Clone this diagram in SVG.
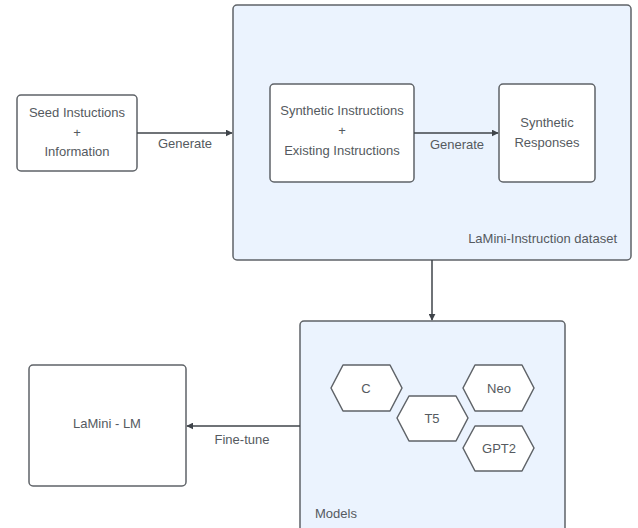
<svg xmlns="http://www.w3.org/2000/svg" width="638" height="528" viewBox="0 0 638 528">
  <style>
    .box { fill: #ffffff; stroke: #5f6368; stroke-width: 1.5; }
    .group { fill: #ebf3fe; stroke: #5f6368; stroke-width: 1.5; }
    .hex { fill: #ffffff; stroke: #5f6368; stroke-width: 1.5; stroke-linejoin: round; }
    .edge { fill: none; stroke: #3f444a; stroke-width: 1.5; }
    text { font-family: "Liberation Sans", Arial, sans-serif; font-size: 13px; fill: #555a60; }
    .c { text-anchor: middle; }
  </style>
  <defs>
    <marker id="arrow" viewBox="0 0 10 10" refX="9" refY="5" markerWidth="7" markerHeight="7" orient="auto" markerUnits="userSpaceOnUse">
      <path d="M0,0 L10,5 L0,10 Z" fill="#3f444a"/>
    </marker>
  </defs>

  <!-- containers -->
  <g id="dataset">
    <rect class="group" x="233" y="5" width="398" height="255" rx="4"/>
    <text x="617" y="243" text-anchor="end">LaMini-Instruction dataset</text>
  </g>
  <g id="models">
    <rect class="group" x="300" y="321" width="265" height="220" rx="4"/>
    <text x="315" y="518">Models</text>
  </g>

  <!-- nodes -->
  <g id="seed">
    <rect class="box" x="17" y="95" width="120" height="76" rx="4"/>
    <text class="c" x="77" y="117">Seed Instuctions</text>
    <text class="c" x="77" y="137">+</text>
    <text class="c" x="77" y="156">Information</text>
  </g>
  <g id="synthetic-instructions">
    <rect class="box" x="270" y="84" width="144" height="98" rx="4"/>
    <text class="c" x="342" y="115">Synthetic Instructions</text>
    <text class="c" x="342" y="135">+</text>
    <text class="c" x="342" y="155">Existing Instructions</text>
  </g>
  <g id="synthetic-responses">
    <rect class="box" x="499" y="84" width="96" height="98" rx="4"/>
    <text class="c" x="547" y="127">Synthetic</text>
    <text class="c" x="547" y="147">Responses</text>
  </g>
  <g id="lamini-lm">
    <rect class="box" x="29" y="365" width="157" height="121" rx="4"/>
    <text class="c" x="107" y="428">LaMini - LM</text>
  </g>
  <g id="model-c">
    <polygon class="hex" points="331,388 343,365 390,365 402,388 390,411 343,411"/>
    <text class="c" x="366" y="393">C</text>
  </g>
  <g id="model-t5">
    <polygon class="hex" points="397,418 409,396 456,396 468,418 456,441 409,441"/>
    <text class="c" x="432" y="423">T5</text>
  </g>
  <g id="model-neo">
    <polygon class="hex" points="463,388 475,365 522,365 534,388 522,411 475,411"/>
    <text class="c" x="499" y="393">Neo</text>
  </g>
  <g id="model-gpt2">
    <polygon class="hex" points="463,448 475,426 522,426 534,448 522,471 475,471"/>
    <text class="c" x="499" y="453">GPT2</text>
  </g>

  <!-- connectors -->
  <g id="connectors">
    <line class="edge" x1="137" y1="133" x2="232" y2="133" marker-end="url(#arrow)"/>
    <text class="c" x="185" y="148">Generate</text>
    <line class="edge" x1="414" y1="133" x2="498" y2="133" marker-end="url(#arrow)"/>
    <text class="c" x="457" y="149">Generate</text>
    <line class="edge" x1="432" y1="260" x2="432" y2="320" marker-end="url(#arrow)"/>
    <line class="edge" x1="300" y1="426" x2="187" y2="426" marker-end="url(#arrow)"/>
    <text class="c" x="242" y="444">Fine-tune</text>
  </g>
</svg>
